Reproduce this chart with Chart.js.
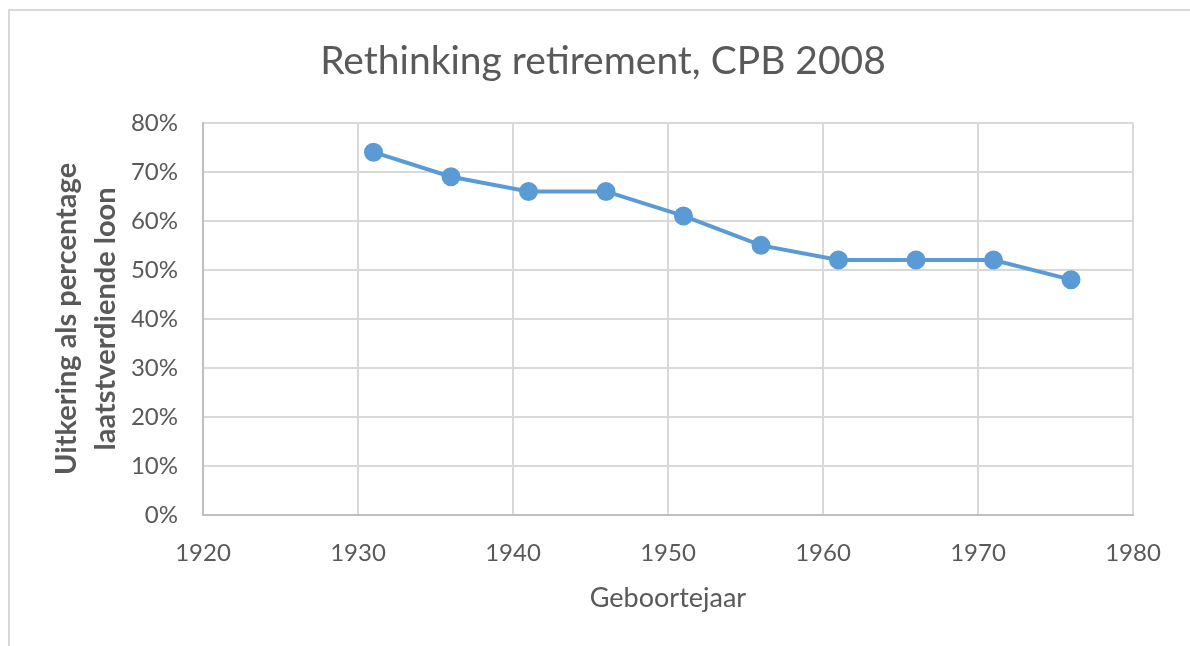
<!DOCTYPE html>
<html>
<head>
<meta charset="utf-8">
<script src="https://cdn.jsdelivr.net/npm/chart.js@4.4.1/dist/chart.umd.min.js"></script>
<style>
  html, body { margin: 0; padding: 0; background: #fff; overflow: hidden; }
  #wrap { position: relative; width: 1190px; height: 646px; }
  #frame {
    position: absolute; left: 8px; top: 9px; width: 1300px; height: 800px;
    border: 2px solid #d9d9d9; box-sizing: border-box;
  }
  #chart { position: absolute; left: 0; top: 0; }
</style>
</head>
<body>
<div id="wrap">
  <div id="frame"></div>
  <canvas id="chart" width="1190" height="646"></canvas>
</div>
<script>
  // geboortejaar / uitkering (% laatstverdiende loon)
  const years = [1931, 1936, 1941, 1946, 1951, 1956, 1961, 1966, 1971, 1976];
  const uitkering = [74, 69, 66, 66, 61, 55, 52, 52, 52, 48];
  const xTicks = [1920, 1930, 1940, 1950, 1960, 1970, 1980];
  const yTicks = [0, 10, 20, 30, 40, 50, 60, 70, 80];

  const FONT = "Lato, 'Open Sans', sans-serif";
  const GREY = "#595959";
  const BLUE = "#5b9bd5";

  const points = years.map((y, i) => ({ x: y, y: uitkering[i] }));

  new Chart(document.getElementById("chart"), {
    type: "line",
    data: {
      datasets: [
        {
          label: "Uitkering",
          data: points,
          borderColor: BLUE,
          backgroundColor: BLUE,
          borderWidth: 4,
          pointRadius: 7.5,
          pointHoverRadius: 7.5,
          tension: 0,
        },
      ],
    },
    options: {
      responsive: false,
      animation: false,
      layout: { padding: { left: 16, right: 0, top: 0, bottom: 0 } },
      plugins: {
        legend: { display: false },
        tooltip: { enabled: false },
        title: {
          display: true,
          text: "Rethinking retirement, CPB 2008",
          color: GREY,
          font: { family: FONT, size: 39, weight: "normal", lineHeight: 1.2 },
          padding: { top: 38, bottom: 38 },
        },
      },
      scales: {
        x: {
          type: "linear",
          min: xTicks[0],
          max: xTicks[xTicks.length - 1],
          afterBuildTicks: s => { s.ticks = xTicks.map(v => ({ value: v })); },
          afterFit: s => { s.height = 131; },
          grid: { color: "#d9d9d9", lineWidth: 2, drawTicks: false },
          border: { color: "#bfbfbf", width: 2 },
          ticks: {
            color: GREY,
            padding: 24,
            font: { family: FONT, size: 24 },
            callback: v => String(v),
          },
          title: {
            display: true,
            text: "Geboortejaar",
            color: GREY,
            font: { family: FONT, size: 27, lineHeight: 1.2 },
            padding: { top: 0, bottom: 32 },
          },
        },
        y: {
          min: 0,
          max: 80,
          afterBuildTicks: s => { s.ticks = yTicks.map(v => ({ value: v })); },
          afterFit: s => { s.width = 187; },
          grid: { color: "#d9d9d9", lineWidth: 2, drawTicks: false },
          border: { color: "#bfbfbf", width: 2 },
          ticks: {
            color: GREY,
            padding: 25,
            font: { family: FONT, size: 24 },
            callback: v => v + "%",
          },
          title: {
            display: true,
            text: ["Uitkering als percentage", "laatstverdiende loon"],
            color: GREY,
            font: { family: FONT, size: 29, weight: "bold", lineHeight: 1.35 },
            padding: { top: 31, bottom: 0 },
          },
        },
        // lege as rechts: houdt de plotruimte op 1133px
        y2: {
          position: "right",
          min: 0,
          max: 80,
          afterFit: s => { s.width = 57; },
          grid: { display: false, drawOnChartArea: false },
          border: { display: false },
          ticks: { display: false },
        },
      },
    },
  });
</script>
</body>
</html>
